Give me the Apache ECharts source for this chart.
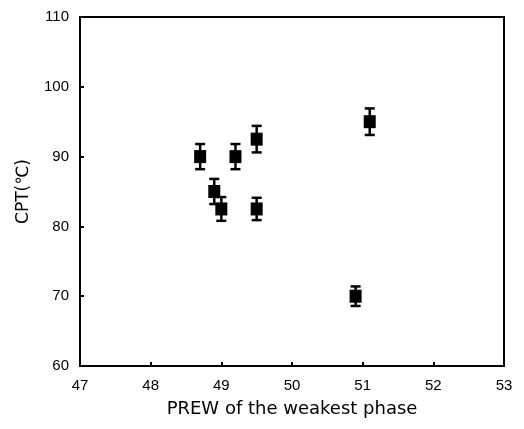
<!DOCTYPE html>
<html>
<head>
<meta charset="utf-8">
<script src="https://cdn.jsdelivr.net/npm/echarts@6/dist/echarts.min.js"></script>
<style>html,body{margin:0;padding:0;background:#fff;}#c{width:524px;height:429px;}</style>
</head>
<body>
<div id="c"></div>
<script>
var prew = [48.7, 48.9, 49.0, 49.2, 49.5, 49.5, 50.9, 51.1];
var cpt = [90, 85, 82.5, 90, 92.5, 82.5, 70, 95];
var err = [1.8, 1.8, 1.7, 1.8, 1.9, 1.6, 1.4, 1.9];
var xTicks = [47, 48, 49, 50, 51, 52, 53];
var yTicks = [60, 70, 80, 90, 100, 110];

var pts = prew.map(function (x, i) { return [x, cpt[i]]; });
var bars = prew.map(function (x, i) { return [x, cpt[i] - err[i], cpt[i] + err[i]]; });

var chart = echarts.init(document.getElementById('c'), null, {renderer: 'canvas'});
var font = '"Liberation Sans", Arial, sans-serif';
chart.setOption({
  animation: false,
  backgroundColor: '#fff',
  grid: {left: 80, right: 20, top: 17, bottom: 63, show: true, borderColor: '#000', borderWidth: 2, backgroundColor: 'transparent'},
  xAxis: {
    type: 'value', min: xTicks[0], max: xTicks[xTicks.length - 1], interval: 1,
    name: 'PREW of the weakest phase', nameLocation: 'middle', nameGap: 34,
    nameTextStyle: {color: '#000', fontSize: 18, fontFamily: 'DejaVu Sans'},
    axisLine: {show: true, lineStyle: {color: '#000', width: 2}},
    axisTick: {show: true, inside: true, length: 4, lineStyle: {color: '#000', width: 2}},
    axisLabel: {color: '#000', fontSize: 15, fontFamily: font, margin: 12},
    splitLine: {show: false}
  },
  yAxis: {
    type: 'value', min: yTicks[0], max: yTicks[yTicks.length - 1], interval: 10,
    name: 'CPT(℃)', nameLocation: 'middle', nameGap: 48, nameRotate: 90,
    nameTextStyle: {color: '#000', fontSize: 17, fontFamily: 'DejaVu Sans'},
    axisLine: {show: true, lineStyle: {color: '#000', width: 2}},
    axisTick: {show: true, inside: true, length: 4, lineStyle: {color: '#000', width: 2}},
    axisLabel: {color: '#000', fontSize: 15, fontFamily: font, margin: 11},
    splitLine: {show: false}
  },
  series: [
    {
      type: 'custom',
      data: bars,
      renderItem: function (params, api) {
        var x = api.value(0);
        var lo = api.coord([x, api.value(1)]);
        var hi = api.coord([x, api.value(2)]);
        var hw = 5;
        var st = {stroke: '#000', lineWidth: 2.5};
        return {
          type: 'group',
          children: [
            {type: 'line', shape: {x1: lo[0], y1: lo[1], x2: hi[0], y2: hi[1]}, style: st},
            {type: 'line', shape: {x1: lo[0] - hw, y1: lo[1], x2: lo[0] + hw, y2: lo[1]}, style: st},
            {type: 'line', shape: {x1: hi[0] - hw, y1: hi[1], x2: hi[0] + hw, y2: hi[1]}, style: st}
          ]
        };
      },
      z: 2
    },
    {
      type: 'scatter',
      data: pts,
      symbol: 'rect',
      symbolSize: [12, 13],
      itemStyle: {color: '#000', opacity: 1},
      z: 3
    }
  ]
});
</script>
</body>
</html>
